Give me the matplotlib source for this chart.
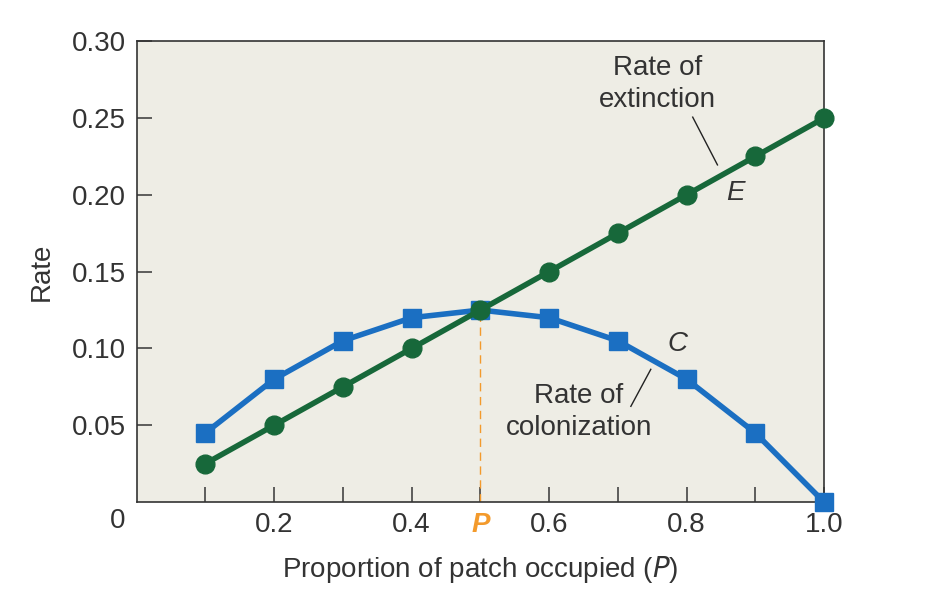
import matplotlib.pyplot as plt

# data
P = [0.1, 0.2, 0.3, 0.4, 0.5, 0.6, 0.7, 0.8, 0.9, 1.0]
extinction = [0.025, 0.05, 0.075, 0.10, 0.125, 0.15, 0.175, 0.20, 0.225, 0.25]
colonization = [0.045, 0.08, 0.105, 0.12, 0.125, 0.12, 0.105, 0.08, 0.045, 0.0]
p_equilibrium = 0.5
rate_equilibrium = 0.125

x_ticks = [0.1, 0.2, 0.3, 0.4, 0.5, 0.6, 0.7, 0.8, 0.9, 1.0]
x_labels = ['', '0.2', '', '0.4', 'P', '0.6', '', '0.8', '', '1.0']
y_ticks = [0.05, 0.10, 0.15, 0.20, 0.25, 0.30]
y_labels = ['0.05', '0.10', '0.15', '0.20', '0.25', '0.30']

green = '#17683a'
blue = '#1b6fc2'
orange = '#f39a2c'
text_col = '#333333'
fs = 20

plt.rcParams['font.family'] = ['Liberation Sans', 'DejaVu Sans']

fig = plt.figure(figsize=(9.3, 5.98), dpi=100)
ax = fig.add_axes([0.147, 0.1605, 0.739, 0.7705])
ax.set_facecolor('#eeede5')

ax.plot([p_equilibrium, p_equilibrium], [0, rate_equilibrium], color=orange,
        linestyle=(0, (6, 4)), linewidth=1.0, zorder=2)
ax.plot(P, colonization, color=blue, linewidth=4.0, marker='s', markersize=13,
        clip_on=False, zorder=3)
ax.plot(P, extinction, color=green, linewidth=4.0, marker='o', markersize=13.5,
        clip_on=False, zorder=4)

ax.set_xlim(0, 1.0)
ax.set_ylim(0, 0.30)
ax.set_xticks(x_ticks)
ax.set_xticklabels(x_labels)
ax.set_yticks(y_ticks)
ax.set_yticklabels(y_labels)
ax.tick_params(axis='both', direction='in', length=11, width=1.2, color='#444444',
               labelsize=fs, labelcolor=text_col)
ax.tick_params(axis='x', pad=7)
ax.tick_params(axis='y', pad=8)
for lab in ax.get_xticklabels():
    if lab.get_text() == 'P':
        lab.set_color(orange)
        lab.set_fontweight('bold')
        lab.set_fontstyle('italic')
for s in ax.spines.values():
    s.set_linewidth(1.2)
    s.set_color('#333333')

ax.text(-0.028, -0.012, '0', transform=ax.transAxes, ha='center', va='top',
        fontsize=fs, color=text_col)

ax.set_xlabel('Proportion of patch occupied ($\\it{P}$)', fontsize=fs, color=text_col,
              labelpad=12)
ax.set_ylabel('Rate', fontsize=fs, color=text_col, labelpad=12)

# annotations
ax.text(0.758, 0.272, 'Rate of\nextinction', ha='center', va='center', fontsize=fs,
        color=text_col, linespacing=1.3)
ax.plot([0.809, 0.845], [0.2506, 0.2195], color='#222222', linewidth=1.0)
ax.text(0.871, 0.2013, 'E', ha='center', va='center', fontsize=fs, style='italic',
        color=text_col)
ax.text(0.787, 0.1026, 'C', ha='center', va='center', fontsize=fs, style='italic',
        color=text_col)
ax.text(0.643, 0.0585, 'Rate of\ncolonization', ha='center', va='center', fontsize=fs,
        color=text_col, linespacing=1.3)
ax.plot([0.719, 0.748], [0.0623, 0.0864], color='#222222', linewidth=1.0)

fig.savefig('out.png', dpi=100, facecolor='white')
